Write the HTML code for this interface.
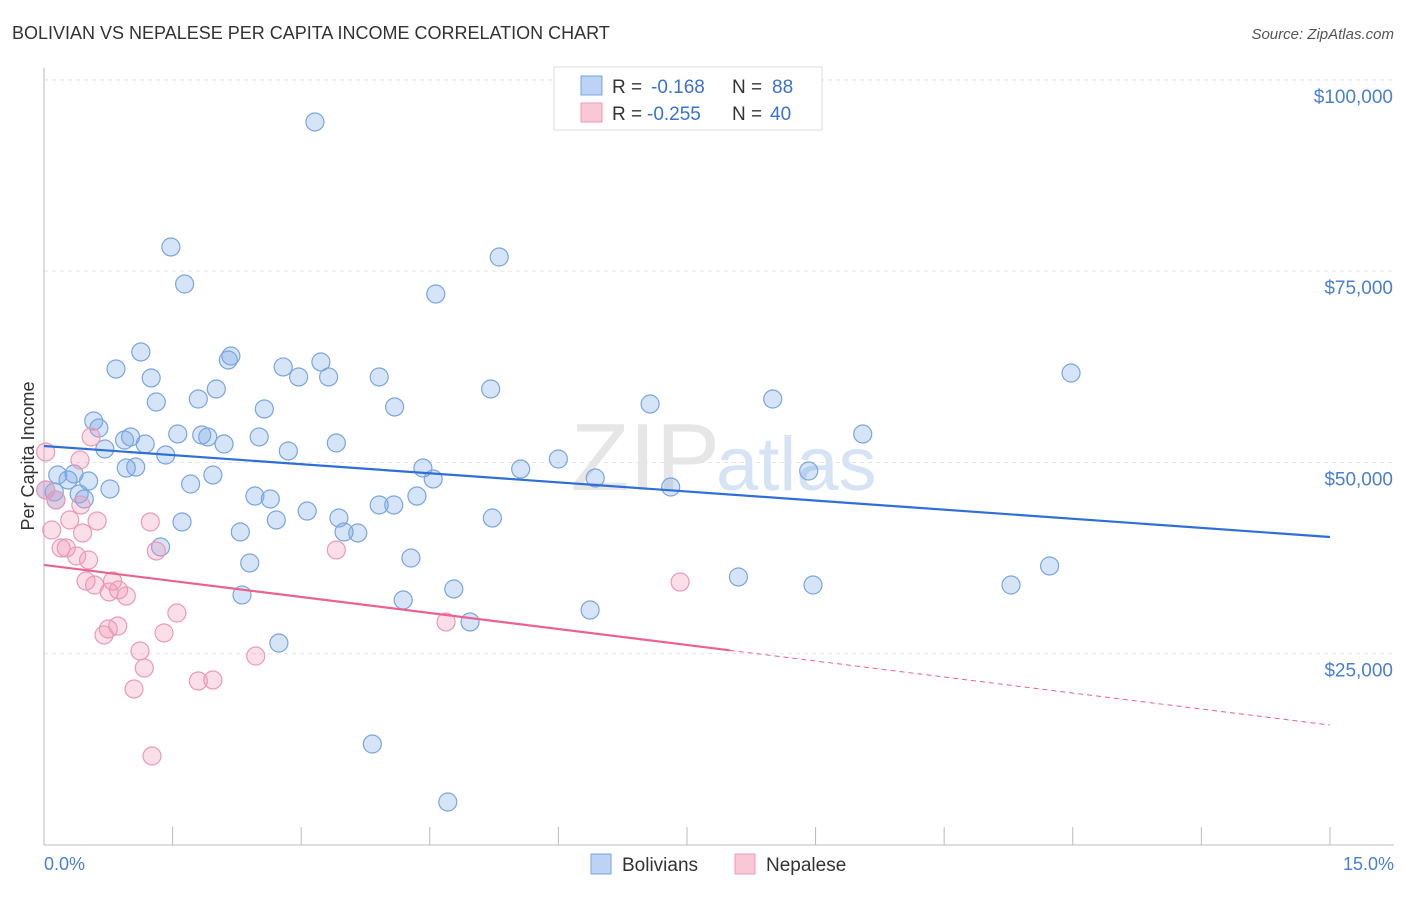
<!DOCTYPE html>
<html><head><meta charset="utf-8"><style>
body{margin:0;background:#fff;font-family:"Liberation Sans",sans-serif}
svg text{font-family:"Liberation Sans",sans-serif}
</style></head><body>
<svg id="c" width="1406" height="892">
<text x="12" y="39" font-size="18" fill="#333">BOLIVIAN VS NEPALESE PER CAPITA INCOME CORRELATION CHART</text>
<text x="1394" y="39" font-size="15" fill="#555" text-anchor="end" font-style="italic">Source: ZipAtlas.com</text>
<text x="720" y="490" font-size="96" fill="#e6e6e6" text-anchor="end" font-family="Liberation Serif">ZIP</text>
<text x="716" y="490" font-size="76" fill="#d5e3f5">atlas</text>
<g id="grid"></g><g id="marks"></g>
<text transform="translate(34,456) rotate(-90)" font-size="18" fill="#333" text-anchor="middle">Per Capita Income</text>
<text x="44" y="870" font-size="18" fill="#4a7fd4">0.0%</text>
<text x="1394" y="870" font-size="18" fill="#4a7fd4" text-anchor="end">15.0%</text>
<g>
<rect x="554" y="67" width="268" height="63" fill="#fff" stroke="#ddd"/>
<rect x="581" y="76" width="21" height="19" fill="#bcd3f5" stroke="#7aa5e0"/>
<rect x="581" y="103" width="21" height="19" fill="#f9c8d6" stroke="#ec9ab5"/>
<text x="612" y="93" font-size="19" fill="#333">R =</text>
<text x="651" y="93" font-size="19" fill="#3a72d0">-0.168</text>
<text x="732" y="93" font-size="19" fill="#333">N =</text>
<text x="772" y="93" font-size="19" fill="#3a72d0">88</text>
<text x="612" y="120" font-size="19" fill="#333">R =</text>
<text x="647" y="120" font-size="19" fill="#3a72d0">-0.255</text>
<text x="732" y="120" font-size="19" fill="#333">N =</text>
<text x="770" y="120" font-size="19" fill="#3a72d0">40</text>
</g>
<g>
<rect x="591" y="854" width="20" height="20" fill="#bcd3f5" stroke="#7aa5e0"/>
<text x="622" y="871" font-size="19" fill="#333">Bolivians</text>
<rect x="735" y="854" width="20" height="20" fill="#f9c8d6" stroke="#ec9ab5"/>
<text x="766" y="871" font-size="19" fill="#333">Nepalese</text>
</g>
</svg>
<script>
const yTicks=[25000,50000,75000,100000];
const yTickLabels=["$25,000","$50,000","$75,000","$100,000"];
const bolX=[3.16,1.48,1.64,5.31,4.57,11.98,1.13,2.18,2.15,0.84,2.79,3.23,1.25,2.97,3.32,3.91,5.21,2.01,1.80,1.31,4.09,2.57,7.07,8.50,0.58,0.64,1.56,0.94,1.01,1.84,1.91,2.51,1.18,2.10,3.41,9.55,0.71,2.85,1.42,6.00,0.96,1.07,4.42,5.56,8.92,1.97,0.35,0.16,0.28,0.52,4.54,6.43,1.71,0.77,0.12,0.41,0.47,2.46,2.64,4.35,7.31,3.07,3.91,4.08,3.44,5.23,1.61,2.71,2.29,3.50,3.66,1.36,2.40,4.28,8.10,11.73,8.97,11.28,4.78,2.31,4.19,6.37,4.97,2.74,3.83,4.71,0.14,0.02];
const bolY=[94500,78160,73320,76850,72020,61690,64440,63910,63390,62210,62480,63130,61040,61170,61170,61170,59600,59600,58290,57900,57250,56990,57640,58290,55420,54500,53720,52930,53330,53590,53330,53330,52410,52410,52540,53720,51760,51500,50970,50450,49270,49400,49270,49140,48880,48360,48490,48360,47710,47570,47840,47970,47180,46530,46140,45880,45220,45610,45220,45610,46790,43650,44440,44440,42740,42740,42220,42480,40910,40910,40780,38950,36860,37510,35030,36470,33980,33980,33460,32680,32020,30710,29150,26400,13200,5620,45090,46400];
const nepX=[0.55,0.02,0.02,0.14,0.43,0.62,0.09,0.45,0.26,0.20,1.24,0.38,0.52,1.31,3.41,0.49,0.59,0.80,0.87,0.76,0.96,1.55,0.86,0.75,0.70,1.40,4.69,7.42,1.12,1.17,2.47,1.80,1.97,1.05,1.26,0.42,0.30];
const nepY=[53330,51370,46400,45090,44440,42350,41170,40780,38820,38820,42220,37770,37250,38430,38560,34500,33980,34500,33330,33070,32540,30320,28620,28230,27450,27710,29150,34370,25360,23130,24700,21430,21570,20390,11630,50320,42480];
const bolTrend=[52150,40260];
const nepTrend=[36600,15680];
const nepSolidEnd=8.0;
const X=v=>44+v*85.73, Y=v=>845-v/130.7;
const NS='http://www.w3.org/2000/svg';
function mk(t,a,p){const e=document.createElementNS(NS,t);for(const k in a)e.setAttribute(k,a[k]);p.appendChild(e);return e;}
const gridG=document.getElementById('grid'),marksG=document.getElementById('marks');
yTicks.forEach((t,i)=>{
 const l=mk('line',{x1:44,x2:1394,y1:Y(t),y2:Y(t),stroke:'#e4e4e4','stroke-dasharray':'4,4'},gridG);
 
 
 const tx=mk('text',{x:1393,y:Y(t)+23,'font-size':19,fill:'#4a7fd4','text-anchor':'end'},gridG);
 tx.textContent=yTickLabels[i];
 
 
});
const yAxisLine=mk('line',{x1:44,x2:44,y1:68,y2:845,stroke:'#bbb'},gridG);


const topGrid=mk('line',{x1:44,x2:1394,y1:Y(100000),y2:Y(100000),stroke:'#e4e4e4','stroke-dasharray':'4,4'},gridG);
const ax=mk('line',{x1:44,x2:1394,y1:845,y2:845,stroke:'#bbb'},gridG);


for(let i=1;i<=10;i++){const t=mk('line',{x1:X(i*1.5),x2:X(i*1.5),y1:827,y2:845,stroke:'#bbb'},gridG);
 
 }
function pts(xs,ys,fill,stroke,name){xs.forEach((x,i)=>{const c=mk('circle',{cx:X(x),cy:Y(ys[i]),r:9,fill:fill,stroke:stroke,'stroke-width':1.2},marksG);
 
 });}
pts(bolX,bolY,'rgba(120,165,230,0.3)','#7aa5e0','bolivian-point');
pts(nepX,nepY,'rgba(240,150,180,0.3)','#ec9ab5','nepalese-point');
const bl=mk('line',{x1:X(0),y1:Y(bolTrend[0]),x2:X(15),y2:Y(bolTrend[1]),stroke:'#2f6fd6','stroke-width':2.2},marksG);


const ny=x=>nepTrend[0]+(nepTrend[1]-nepTrend[0])*x/15;
const nl=mk('line',{x1:X(0),y1:Y(nepTrend[0]),x2:X(nepSolidEnd),y2:Y(ny(nepSolidEnd)),stroke:'#e8638f','stroke-width':2.2},marksG);


const nd=mk('line',{x1:X(nepSolidEnd),y1:Y(ny(nepSolidEnd)),x2:X(15),y2:Y(nepTrend[1]),stroke:'#e8638f','stroke-width':1,'stroke-dasharray':'5,4'},marksG);


</script>
</body></html>
